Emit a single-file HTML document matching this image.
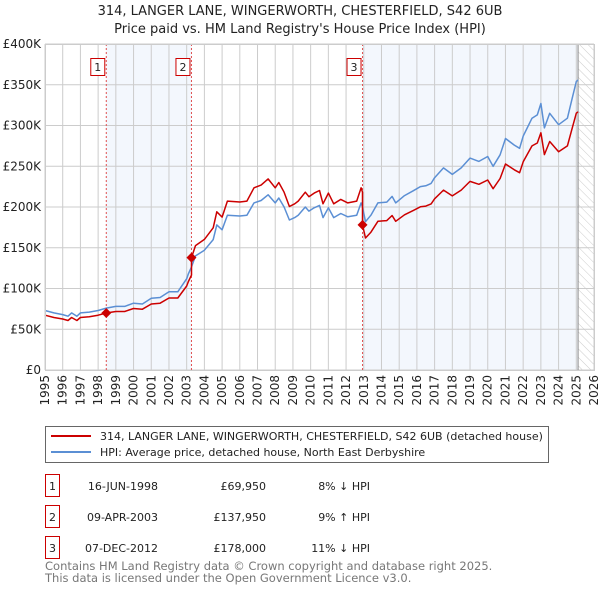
<!DOCTYPE html>
<html><head><meta charset="utf-8"><style>
body{margin:0;background:#fff;width:600px;height:590px;overflow:hidden;font-family:"DejaVu Sans","Liberation Sans",sans-serif;}
svg{position:absolute;left:0;top:0}
</style></head><body>
<svg id="c" width="600" height="590" xmlns="http://www.w3.org/2000/svg">
<defs><pattern id="hatch" width="6" height="6" patternUnits="userSpaceOnUse" patternTransform="rotate(-45)"><line x1="0" y1="0" x2="0" y2="6" stroke="#ccc" stroke-width="1"/></pattern></defs>
<text x="300" y="15" text-anchor="middle" font-size="13" fill="#222">314, LANGER LANE, WINGERWORTH, CHESTERFIELD, S42 6UB</text>
<text x="300" y="33" text-anchor="middle" font-size="13" fill="#222">Price paid vs. HM Land Registry's House Price Index (HPI)</text>
<g id="plot"></g>
<g>
<rect x="45.5" y="426.5" width="503" height="36" fill="#fff" stroke="#666"/>
<line x1="51" y1="436" x2="91" y2="436" stroke="#cc0000" stroke-width="2"/>
<text x="100" y="440" font-size="11" fill="#222">314, LANGER LANE, WINGERWORTH, CHESTERFIELD, S42 6UB (detached house)</text>
<line x1="51" y1="452" x2="91" y2="452" stroke="#5b8fd4" stroke-width="2"/>
<text x="100" y="456" font-size="11" fill="#222">HPI: Average price, detached house, North East Derbyshire</text>
</g>
<g id="table" font-size="11" fill="#222"></g>
<text x="45" y="570" font-size="11.5" fill="#777">Contains HM Land Registry data © Crown copyright and database right 2025.</text>
<text x="45" y="582" font-size="11.5" fill="#777">This data is licensed under the Open Government Licence v3.0.</text>
</svg>
<script>
const hpiDates=[1995.0,1995.5,1996.0,1996.3,1996.5,1996.8,1997.0,1997.5,1998.0,1998.46,1999.0,1999.5,2000.0,2000.5,2001.0,2001.5,2002.0,2002.5,2003.0,2003.1,2003.27,2003.5,2004.0,2004.5,2004.7,2005.0,2005.3,2006.0,2006.4,2006.8,2007.2,2007.6,2008.0,2008.2,2008.5,2008.8,2009.1,2009.3,2009.7,2009.9,2010.2,2010.5,2010.7,2011.0,2011.3,2011.7,2012.1,2012.6,2012.85,2012.93,2013.1,2013.4,2013.8,2014.3,2014.6,2014.8,2015.3,2015.8,2016.2,2016.5,2016.8,2017.0,2017.5,2018.0,2018.5,2019.0,2019.5,2020.0,2020.3,2020.7,2021.0,2021.5,2021.8,2022.0,2022.5,2022.8,2023.0,2023.2,2023.5,2024.0,2024.5,2024.8,2025.0,2025.1];
const hpiValues=[73,70,68,66,70,66,70,71,73,76,78,78,82,81,88,89,96,96,112,118,126.5,140,147,160,178,172,190,189,190,205,208,215,205,211,200,184,187,190,200,195,199,202,187,199,187,192,188,190,205,200,182,190,205,206,213,205,214,220,225,226,229,236,248,240,248,260,256,262,250,264,284,276,272,287,309,313,327,297,315,301,309,336,354,356];
const saleDates=[1998.46,2003.27,2012.93];
const salePrices=[69950,137950,178000];
const saleLabels=["16-JUN-1998","09-APR-2003","07-DEC-2012"];
const salePriceText=["£69,950","£137,950","£178,000"];
const saleDiffText=["8% ↓ HPI","9% ↑ HPI","11% ↓ HPI"];
const yTicks=[0,50,100,150,200,250,300,350,400];
const yTickLabels=["£0","£50K","£100K","£150K","£200K","£250K","£300K","£350K","£400K"];
const xYears=[1995,1996,1997,1998,1999,2000,2001,2002,2003,2004,2005,2006,2007,2008,2009,2010,2011,2012,2013,2014,2015,2016,2017,2018,2019,2020,2021,2022,2023,2024,2025,2026];
const dataEnd=2025.1;

const L=45,R=594,T=44,B=370;
const X=y=>L+(y-1995)*(R-L)/31;
const Y=v=>B-v*(B-T)/400;
const NS="http://www.w3.org/2000/svg";
const plot=document.getElementById('plot');
function mk(tag,attrs,parent){const e=document.createElementNS(NS,tag);for(const k in attrs)e.setAttribute(k,attrs[k]);(parent||plot).appendChild(e);return e;}
function hpiAt(d){for(let i=0;i<hpiDates.length-1;i++){if(d>=hpiDates[i]&&d<=hpiDates[i+1]){const t=(d-hpiDates[i])/(hpiDates[i+1]-hpiDates[i]);return hpiValues[i]+t*(hpiValues[i+1]-hpiValues[i]);}}return hpiValues[hpiValues.length-1];}

let s1=mk('rect',{x:X(saleDates[0]),y:T,width:X(saleDates[1])-X(saleDates[0]),height:B-T,fill:'#eef3fc',opacity:0.7});


let s2=mk('rect',{x:X(saleDates[2]),y:T,width:X(dataEnd)-X(saleDates[2]),height:B-T,fill:'#eef3fc',opacity:0.7});


let h=mk('rect',{x:X(dataEnd),y:T,width:R-X(dataEnd),height:B-T,fill:'url(#hatch)'});


yTicks.forEach((v,i)=>{
 let g=mk('line',{x1:L,x2:R,y1:Y(v),y2:Y(v),stroke:'#ccc','stroke-width':1});
 
 
 let t=mk('text',{x:L-4,y:Y(v)+4,'text-anchor':'end','font-size':12,fill:'#222'});
 t.textContent=yTickLabels[i];
 
 
});
xYears.forEach(yr=>{
 let g=mk('line',{x1:X(yr),x2:X(yr),y1:T,y2:B,stroke:'#ccc','stroke-width':1});
 
 
 let t=mk('text',{x:0,y:0,'text-anchor':'end','font-size':12,fill:'#222',transform:`translate(${X(yr)+4},${B+5}) rotate(-90)`});
 t.textContent=yr;
 
 
});
let ed=mk('line',{x1:X(dataEnd),x2:X(dataEnd),y1:T,y2:B,stroke:'#888','stroke-width':1});


saleDates.forEach((d,i)=>{
 let l=mk('line',{x1:X(d),x2:X(d),y1:T,y2:B,stroke:'#e05050','stroke-width':1,'stroke-dasharray':'2,2'});
 
 
 let bx=mk('rect',{x:X(d)-15.5,y:58.5,width:14,height:17,fill:'#fff',stroke:'#cc0000'});
 
 
 let tx=mk('text',{x:X(d)-8.5,y:71,'text-anchor':'middle','font-size':11,fill:'#222'});
 tx.textContent=i+1;
 
 
});
let hp=hpiDates.map((d,i)=>X(d).toFixed(1)+','+Y(hpiValues[i]).toFixed(1)).join(' ');
let hl=mk('polyline',{points:hp,fill:'none',stroke:'#5b8fd4','stroke-width':1.5,'stroke-linejoin':'round'});


const ratios=saleDates.map((d,i)=>salePrices[i]/1000/hpiAt(d));
let pts=[];
const allD=hpiDates.concat(saleDates).sort((a,b)=>a-b);
allD.forEach(d=>{
 let k=0;for(let i=0;i<saleDates.length;i++)if(d>=saleDates[i])k=i;
 if(saleDates.includes(d)&&k>0){pts.push([d,hpiAt(d)*ratios[k-1]]);}
 pts.push([d,hpiAt(d)*ratios[k]]);
});
let pl=mk('polyline',{points:pts.map(p=>X(p[0]).toFixed(1)+','+Y(p[1]).toFixed(1)).join(' '),fill:'none',stroke:'#cc0000','stroke-width':1.5,'stroke-linejoin':'round'});


saleDates.forEach((d,i)=>{
 const cx=X(d),cy=Y(salePrices[i]/1000);
 let m=mk('polygon',{points:`${cx},${cy-5} ${cx+5},${cy} ${cx},${cy+5} ${cx-5},${cy}`,fill:'#cc0000'});
 
 
});
const tb=document.getElementById('table');
const rowY=[486,517,548];
saleDates.forEach((d,i)=>{
 const y=rowY[i];
 let b=mk('rect',{x:45.5,y:y-11.5,width:14,height:22,fill:'#fff',stroke:'#cc0000'},tb);
 
 
 let n=mk('text',{x:52.5,y:y+4,'text-anchor':'middle'},tb);n.textContent=i+1;
 
 
 let a=mk('text',{x:158,y:y+4,'text-anchor':'end'},tb);a.textContent=saleLabels[i];
 
 
 let p=mk('text',{x:266,y:y+4,'text-anchor':'end'},tb);p.textContent=salePriceText[i];
 
 
 let q=mk('text',{x:370,y:y+4,'text-anchor':'end'},tb);q.textContent=saleDiffText[i];
 
 
});
let fr=mk('rect',{x:L+0.5,y:T+0.5,width:R-L,height:B-T,fill:'none',stroke:'#ccc'});


</script>
</body></html>
